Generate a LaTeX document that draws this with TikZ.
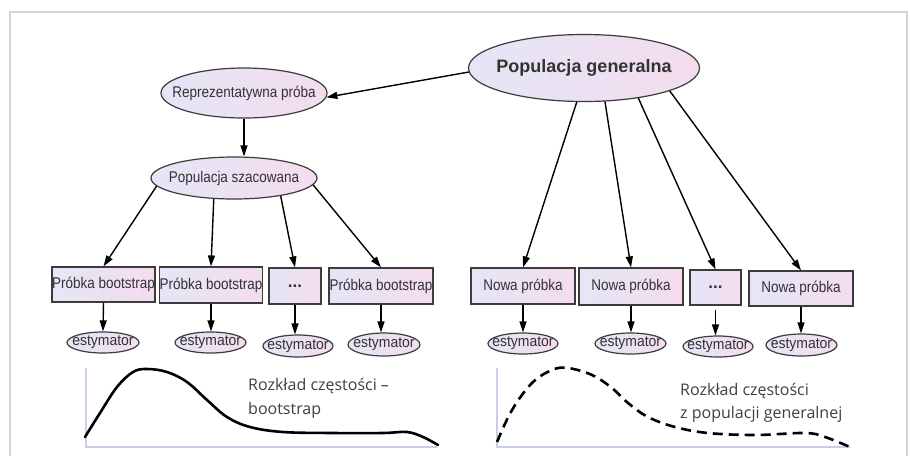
\documentclass[tikz,border=0pt]{standalone}
\usepackage{fontspec}
\setmainfont{Liberation Sans}
\newfontfamily\nodefont[FakeStretch=0.87]{Liberation Sans}
\newfontfamily\estfont[FakeStretch=0.93]{Liberation Sans}
\newfontfamily\labfont{Open Sans}
\usetikzlibrary{shapes.geometric,arrows.meta}
\definecolor{framegray}{HTML}{D4D4D4}
\definecolor{nodeline}{HTML}{3C3C3C}
\definecolor{nodetext}{HTML}{333333}
\definecolor{shadeL}{HTML}{E4E6F6}
\definecolor{shadeR}{HTML}{F4DCEE}
\definecolor{axiscol}{HTML}{C6D0E2}
\definecolor{labcol}{HTML}{404040}
\tikzset{
  nodebase/.style={draw=nodeline, line width=1.2pt, left color=shadeL, right color=shadeR,
    inner sep=0pt, text=nodetext},
  ell/.style={nodebase, ellipse},
  intext/.style={inner sep=0pt, text=nodetext},
  boxn/.style={nodebase, rectangle, font=\nodefont\fontsize{15.5}{15.5}\selectfont},
  esttext/.style={intext, font=\estfont\fontsize{15}{15}\selectfont},
  midtext/.style={intext, font=\nodefont\fontsize{15.5}{15.5}\selectfont},
  bigtext/.style={intext, font=\bfseries\fontsize{18}{18}\selectfont},
  dots/.style={font=\bfseries\fontsize{17}{17}\selectfont},
  conn/.style={line width=1.4pt, -{Triangle[length=11pt,width=7pt]}},
  axisln/.style={axiscol, line width=1.5pt},
  curve/.style={line width=2.6pt, line cap=round, line join=round},
  lab/.style={text=labcol, font=\labfont\fontsize{16}{23.5}\selectfont, align=left, inner sep=0pt}
}
\begin{document}
\begin{tikzpicture}[x=1pt,y=-1pt]
\useasboundingbox (0,0) rectangle (910,456);
\fill[white] (0,0) rectangle (910,456);
\draw[framegray, line width=1.5pt] (10,456) -- (10,12) -- (907,12) -- (907,456);

% top ellipses
\node[ell, minimum width=231pt, minimum height=67pt, label={[bigtext]center:Populacja generalna}] (pg) at (584,68) {};
\node[ell, minimum width=166pt, minimum height=50pt, label={[midtext]center:Reprezentatywna próba}] (rep) at (244,93) {};
\node[ell, minimum width=166pt, minimum height=42pt, label={[midtext]center:Populacja szacowana}] (sz) at (234,178) {};

% left boxes
\node[boxn, minimum width=103pt, minimum height=35pt] (b1) at (103.5,284.5) {Próbka bootstrap};
\node[boxn, minimum width=102pt, minimum height=36pt] (b2) at (211,285) {Próbka bootstrap};
\node[boxn, dots, minimum width=52pt, minimum height=36pt] (b3) at (295,286) {...};
\node[boxn, minimum width=104pt, minimum height=36pt] (b4) at (381,286) {Próbka bootstrap};

% right boxes
\node[boxn, minimum width=104pt, minimum height=36pt] (r1) at (523,286) {Nowa próbka};
\node[boxn, minimum width=104pt, minimum height=37pt] (r2) at (631,286.5) {Nowa próbka};
\node[boxn, dots, minimum width=51pt, minimum height=35pt] (r3) at (715.5,287.5) {...};
\node[boxn, minimum width=104pt, minimum height=35pt] (r4) at (801,288.5) {Nowa próbka};

% estimators left
\node[ell, minimum width=72pt, minimum height=21pt, label={[esttext]center:estymator}] (e1) at (103,342.5) {};
\node[ell, minimum width=71pt, minimum height=21pt, label={[esttext]center:estymator}] (e2) at (210.5,342.5) {};
\node[ell, minimum width=70pt, minimum height=22pt, label={[esttext]center:estymator}] (e3) at (298,346) {};
\node[ell, minimum width=72pt, minimum height=23pt, label={[esttext]center:estymator}] (e4) at (384,344.5) {};

% estimators right
\node[ell, minimum width=70pt, minimum height=21pt, label={[esttext]center:estymator}] (f1) at (523,343.5) {};
\node[ell, minimum width=71pt, minimum height=21pt, label={[esttext]center:estymator}] (f2) at (630.5,343.5) {};
\node[ell, minimum width=70pt, minimum height=21pt, label={[esttext]center:estymator}] (f3) at (718,346.5) {};
\node[ell, minimum width=71pt, minimum height=22pt, label={[esttext]center:estymator}] (f4) at (801.5,345) {};

% connectors
\draw[conn] (pg.182) -- (rep.-3);
\draw[conn] (rep.south) -- (rep.south |- sz.north);
\draw[conn] (sz.186) -- (b1.north);
\draw[conn] (sz.226.5) -- (b2.north);
\draw[conn] (sz.339) -- (b3.north);
\draw[conn] (sz.355) -- (b4.north);
\draw[conn] (pg.258.7) -- (r1.north);
\draw[conn] (pg.302) -- (r2.north);
\draw[conn] (pg.331) -- (r3.north);
\draw[conn] (pg.345) -- (r4.north);

\draw[conn] (b1.south) -- (e1.north);
\draw[conn] (b2.south) -- (b2.south |- e2.north);
\draw[conn] (b3.south) -- (b3.south |- e3.north);
\draw[conn] (b4.south) -- (b4.south |- e4.north);
\draw[conn] (r1.south) -- (f1.north);
\draw[conn] (r2.south) -- (r2.south |- f2.north);
\draw[conn, shorten <=4pt] (r3.south) -- (r3.south |- f3.north);
\draw[conn] (r4.south) -- (r4.south |- f4.north);

% distributions
\draw[axisln] (86,368) -- (86,447) -- (437,447);
\draw[axisln] (497,368) -- (497,447) -- (850,447);

\draw[curve] plot[smooth, tension=0.6] coordinates {
  (85,437) (100,413) (117,387) (133,372) (147,369) (167,372) (187,382)
  (207,400) (227,417) (250,427) (283,432) (333,433) (383,433) (407,432)
  (423,437) (438,445)};

\draw[curve, line cap=butt, dash pattern=on 10pt off 6pt] plot[smooth, tension=0.6] coordinates {
  (497,442) (512,410) (532,383) (552,370) (568,368) (592,375) (612,388)
  (628,403) (648,417) (675,427) (708,433) (755,435) (805,433) (825,437)
  (850,447)};

\node[lab, anchor=west] (l1) at (248,398.5) {Rozkład częstości –\\bootstrap};
\node[lab, anchor=west] (l2) at (680,403) {Rozkład częstości\\z populacji generalnej};
\end{tikzpicture}
\end{document}
